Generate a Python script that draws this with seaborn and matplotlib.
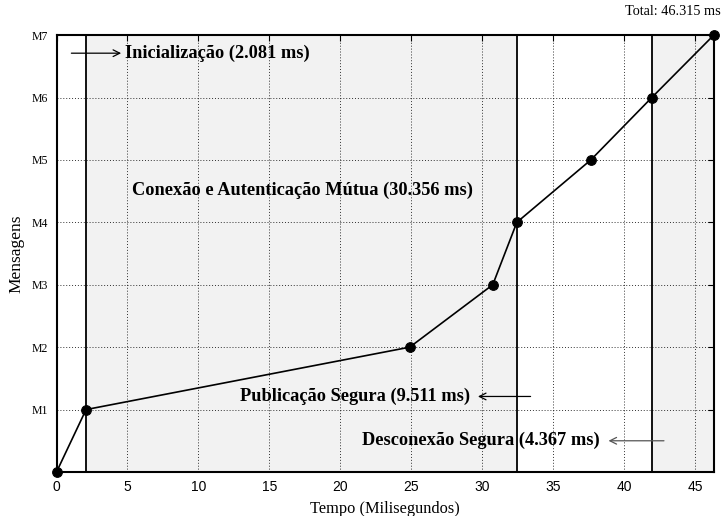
import matplotlib
matplotlib.use("Agg")
import matplotlib.pyplot as plt
import seaborn as sns
import pandas as pd

# Data
tempo = [0.0, 2.081, 24.89, 30.74, 32.437, 37.65, 41.948, 46.315]
mensagens = [0, 1, 2, 3, 4, 5, 6, 7]
ytick_labels = ["M1", "M2", "M3", "M4", "M5", "M6", "M7"]
fases_limites = [2.081, 32.437, 41.948]
total = 46.315

sns.set_theme(style="white")
plt.rcParams['font.family'] = ['Liberation Serif', 'DejaVu Serif']

fig = plt.figure(figsize=(7.21, 5.16), dpi=100)
ax = fig.add_axes([0.0784, 0.0853, 0.9116, 0.8467])

# shaded regions
ax.axvspan(fases_limites[0], fases_limites[1], color="#f2f2f2", zorder=0, lw=0)
ax.axvspan(fases_limites[2], total, color="#f2f2f2", zorder=0, lw=0)
for xv in fases_limites:
    ax.axvline(xv, color="black", lw=1.3, zorder=2)

df = pd.DataFrame({"Tempo": tempo, "Mensagens": mensagens})
sns.lineplot(data=df, x="Tempo", y="Mensagens", ax=ax, color="black", lw=1.2,
             marker="o", markersize=7, markeredgecolor="black", zorder=5, clip_on=False)

ax.set_xlim(0, total)
ax.set_ylim(0, 7)
ax.set_xticks(range(0, 46, 5))
ax.set_yticks(range(1, 8))
ax.set_yticklabels(ytick_labels)
for lab in ax.get_xticklabels():
    lab.set_fontfamily("Liberation Sans")
ax.tick_params(axis="x", labelsize=10, direction="in", top=True, length=4, width=0.8, pad=6, colors="black")
ax.tick_params(axis="y", labelsize=8.5, direction="in", right=True, length=4, width=0.8, pad=6, colors="black")
ax.grid(True, linestyle=(0, (1, 2)), color="black", lw=0.7, alpha=0.8)
ax.set_axisbelow(True)
for s in ax.spines.values():
    s.set_color("black")
    s.set_linewidth(1.5)

ax.set_xlabel("Tempo (Milisegundos)", fontsize=11.8, labelpad=5, color="black")
ax.set_ylabel("Mensagens", fontsize=12.5, labelpad=5, color="black")

bold = dict(fontsize=13.2, fontweight="bold", color="black", va="center")
ax.text(4.85, 6.71, "Inicialização (2.081 ms)", ha="left", **bold)
ax.annotate("", xy=(4.75, 6.71), xytext=(0.85, 6.71),
            arrowprops=dict(arrowstyle="->", color="black", lw=0.9))
ax.text(5.35, 4.52, "Conexão e Autenticação Mútua (30.356 ms)", ha="left", **bold)
ax.text(29.15, 1.21, "Publicação Segura (9.511 ms)", ha="right", **bold)
ax.annotate("", xy=(29.5, 1.21), xytext=(33.6, 1.21),
            arrowprops=dict(arrowstyle="->", color="black", lw=0.9))
ax.text(38.25, 0.50, "Desconexão Segura (4.367 ms)", ha="right", **bold)
ax.annotate("", xy=(38.7, 0.50), xytext=(43.0, 0.50),
            arrowprops=dict(arrowstyle="->", color="#555555", lw=0.9))
ax.text(40.05, 7.37, "Total: 46.315 ms", ha="left", va="center", fontsize=10.3, color="black", clip_on=False)

fig.savefig("out.png", dpi=100)
